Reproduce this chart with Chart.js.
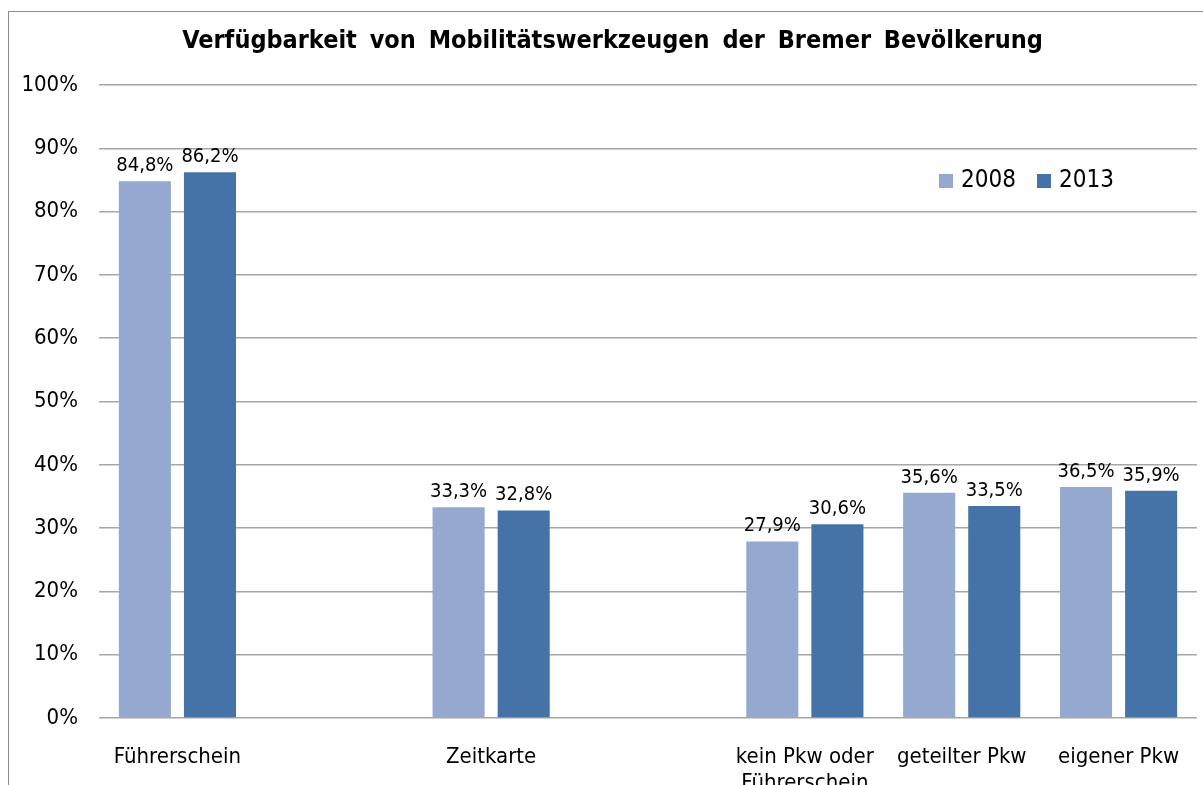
<!DOCTYPE html>
<html lang="de">
<head>
    <meta charset="UTF-8">
    <title>Verfügbarkeit von Mobilitätswerkzeugen der Bremer Bevölkerung</title>
    <script src="https://cdn.jsdelivr.net/npm/chart.js"></script>
    <style>
        html, body { margin: 0; padding: 0; background: #fff; }
        #wrap { width: 1203px; height: 785px; }
    </style>
</head>
<body>
    <div id="wrap"><canvas id="mobChart"></canvas></div>

    <script>
        const chartTitle = 'Verfügbarkeit von Mobilitätswerkzeugen der Bremer Bevölkerung';
        // leere Kategorien sorgen für die Lücken zwischen den Gruppen
        const categories = ['Führerschein', '', 'Zeitkarte', '', ['kein Pkw oder', 'Führerschein'], 'geteilter Pkw', 'eigener Pkw'];
        const seriesNames = ['2008', '2013'];
        const values2008 = [84.8, null, 33.3, null, 27.9, 35.6, 36.5];
        const values2013 = [86.2, null, 32.8, null, 30.6, 33.5, 35.9];
        const yTicks = [0, 10, 20, 30, 40, 50, 60, 70, 80, 90, 100];

        const colors = ['#95a9d0', '#4573a7'];
        const fontFam = '"DejaVu Sans Condensed", "DejaVu Sans", sans-serif';

        function fmt(v) {
            return v.toFixed(1).replace('.', ',') + '%';
        }

        // Rahmen + Titel + Legende
        const decoPlugin = {
            id: 'deco',
            beforeDraw(chart) {
                const ctx = chart.ctx;
                ctx.save();
                ctx.strokeStyle = '#8c8c8c';
                ctx.lineWidth = 1;
                ctx.strokeRect(8.5, 11.5, chart.width + 20, chart.height + 20);
                ctx.restore();
            },
            afterDraw(chart) {
                const ctx = chart.ctx;
                const area = chart.chartArea;
                ctx.save();
                ctx.fillStyle = '#000';
                ctx.font = 'bold 25px ' + fontFam;
                ctx.textAlign = 'center';
                ctx.textBaseline = 'middle';
                ctx.wordSpacing = '5px';
                ctx.fillText(chartTitle, chart.width / 2 + 11, 41);
                ctx.wordSpacing = '0px';

                // Legende oben rechts im Diagrammbereich
                ctx.font = '24px ' + fontFam;
                ctx.textAlign = 'left';
                let x = area.right - 258;
                const y = area.top + 96;
                seriesNames.forEach((name, i) => {
                    ctx.fillStyle = colors[i];
                    ctx.fillRect(x, y - 7, 14, 14);
                    ctx.fillStyle = '#000';
                    ctx.fillText(name, x + 22, y);
                    x += 98;
                });
                ctx.restore();
            }
        };

        const labelPlugin = {
            id: 'barLabels',
            afterDatasetsDraw(chart) {
                const ctx = chart.ctx;
                ctx.save();
                ctx.font = '20px ' + fontFam;
                ctx.fillStyle = '#000';
                ctx.textAlign = 'center';
                ctx.textBaseline = 'alphabetic';
                chart.data.datasets.forEach((ds, di) => {
                    chart.getDatasetMeta(di).data.forEach((bar, i) => {
                        const v = ds.data[i];
                        if (v == null) return;
                        ctx.fillText(fmt(v), bar.x, bar.y - 10);
                    });
                });
                ctx.restore();
            }
        };

        const ctx = document.getElementById('mobChart').getContext('2d');
        new Chart(ctx, {
            type: 'bar',
            data: {
                labels: categories,
                datasets: [
                    { label: seriesNames[0], data: values2008, backgroundColor: colors[0] },
                    { label: seriesNames[1], data: values2013, backgroundColor: colors[1] }
                ]
            },
            options: {
                responsive: true,
                maintainAspectRatio: false,
                animation: false,
                datasets: {
                    bar: { categoryPercentage: 0.83, barPercentage: 0.8 }
                },
                layout: { padding: { top: 85, right: 6, bottom: 0, left: 0 } },
                plugins: {
                    legend: { display: false },
                    title: { display: false },
                    tooltip: { enabled: false }
                },
                scales: {
                    x: {
                        grid: { display: false },
                        border: { display: false },
                        ticks: {
                            color: '#000',
                            font: { family: fontFam, size: 22, lineHeight: 1.2 },
                            padding: 18,
                            maxRotation: 0,
                            autoSkip: false
                        },
                        afterFit(s) { s.height = 67; }
                    },
                    y: {
                        min: 0,
                        max: 100,
                        afterBuildTicks(s) { s.ticks = yTicks.map(v => ({ value: v })); },
                        grid: { color: '#a6a6a6', lineWidth: 1.5, drawTicks: false },
                        border: { display: false },
                        ticks: {
                            color: '#000',
                            font: { family: fontFam, size: 22 },
                            padding: 21,
                            callback: v => v + '%'
                        },
                        afterFit(s) { s.width = 99; }
                    }
                }
            },
            plugins: [decoPlugin, labelPlugin]
        });
    </script>
</body>
</html>
